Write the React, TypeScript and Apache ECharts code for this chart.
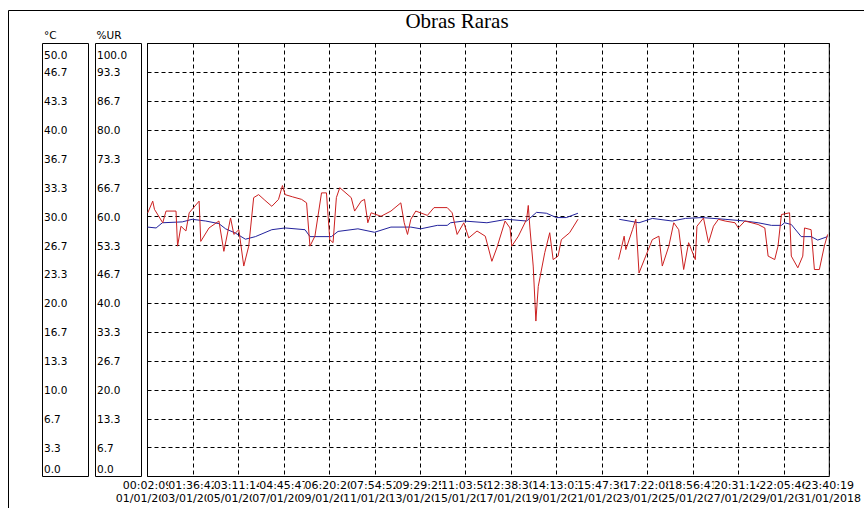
import React, { useEffect, useRef } from 'react';
import * as echarts from 'echarts';

const TITLE = 'Obras Raras';
const TEMP_UNIT = '°C';
const HUM_UNIT = '%UR';

// x tick labels (time + date), 16 ticks spanning 01/01/2018 00:02:09 .. 31/01/2018 23:40:19
const X_TIMES = ['00:02:09', '01:36:42', '03:11:14', '04:45:47', '06:20:20', '07:54:52', '09:29:25', '11:03:58',
  '12:38:30', '14:13:03', '15:47:36', '17:22:08', '18:56:41', '20:31:14', '22:05:46', '23:40:19'];
const X_DATES = ['01/01/2018', '03/01/2018', '05/01/2018', '07/01/2018', '09/01/2018', '11/01/2018', '13/01/2018',
  '15/01/2018', '17/01/2018', '19/01/2018', '21/01/2018', '23/01/2018', '25/01/2018', '27/01/2018', '29/01/2018', '31/01/2018'];
const TOTAL_HOURS = 743.636; // elapsed hours between first and last tick

const TEMP_TICKS = ['0.0', '3.3', '6.7', '10.0', '13.3', '16.7', '20.0', '23.3', '26.7', '30.0', '33.3', '36.7', '40.0', '43.3', '46.7', '50.0'];
const HUM_TICKS = ['0.0', '6.7', '13.3', '20.0', '26.7', '33.3', '40.0', '46.7', '53.3', '60.0', '66.7', '73.3', '80.0', '86.7', '93.3', '100.0'];
const TEMP_MAX = 50;
const HUM_MAX = 100;

// temperature (°C), hours since start
const TEMP_HOURS = [0, 9.4, 16.2, 37.9, 48.7, 63.5, 77.9, 85.2, 96.0, 106.8, 117.7, 135.6, 150.1, 171.8, 177.2, 200.6,
  207.8, 229.5, 247.6, 265.5, 287.2, 298.0, 316.1, 326.9, 330.5, 345.0, 370.2, 391.9, 413.5, 424.3, 435.1, 446.0,
  456.8, 469.5, 490, 514.5, 536.1, 550.6, 572.3, 586.7, 604.8, 630.0, 651.6, 666.0, 680.5, 691.4, 694.9, 702.2,
  713.0, 723.8, 731.0, 741.8];
const TEMP_VALUES = [28.8, 28.7, 29.3, 29.4, 29.7, 29.5, 29.2, 28.6, 28.1, 27.4, 27.7, 28.5, 28.7, 28.5, 27.7, 27.7,
  28.3, 28.6, 28.2, 28.8, 28.8, 28.6, 29.0, 29.0, 29.3, 29.5, 29.3, 29.7, 29.5, 30.5, 30.4, 29.9,
  29.9, 30.4, null, 29.7, 29.3, 29.8, 29.5, 29.8, 29.9, 29.7, 29.5, 29.3, 29.0, 29.0, 29.3, 29.1,
  27.7, 27.7, 27.3, 27.7];

// relative humidity (%UR), hours since start
const HUM_HOURS = [0.3, 5.7, 7.6, 16.6, 20.2, 31.1, 32.8, 36.5, 41.9, 45.5, 56.3, 58.1, 67.1, 77.9, 83.3, 90.6,
  94.2, 99.6, 105.0, 110.4, 115.8, 121.2, 128.0, 135.6, 142.9, 147.2, 150.1, 158.0, 168.1, 173.5, 177.2, 182.6,
  189.8, 195.2, 198.8, 202.4, 206.0, 209.7, 222.2, 225.9, 233.1, 236.7, 240.3, 243.9, 254.7, 265.5, 276.3, 280.0,
  283.6, 287.2, 292.6, 305.3, 312.5, 326.9, 332.3, 337.7, 345.0, 350.4, 359.4, 368.4, 375.6, 381.0, 390.0, 395.4,
  397.3, 404.5, 413.5, 415.3, 417.1, 420.7, 423.6, 426.2, 433.3, 438.7, 442.4, 447.8, 451.4, 460.4, 469.5, 490,
  513.8, 519.9, 521.7, 529.0, 532.6, 536.1, 543.4, 550.6, 557.8, 561.5, 568.6, 574.0, 579.4, 584.8, 590.2, 597.5,
  599.3, 606.4, 611.9, 617.3, 622.7, 630.0, 640.8, 644.4, 651.6, 666.0, 673.3, 676.9, 684.1, 687.7, 691.4, 700.3,
  702.2, 709.3, 714.7, 716.6, 723.8, 727.4, 732.8, 738.2, 741.8];
const HUM_VALUES = [60.9, 63.6, 61.7, 58.6, 61.3, 61.3, 53.2, 57.8, 56.7, 60.9, 63.6, 54.3, 57.4, 59.0, 52.0, 59.7,
  55.9, 57.0, 48.6, 53.2, 64.4, 65.1, 63.8, 62.4, 64.0, 67.2, 65.1, 64.6, 64.0, 63.2, 53.2, 55.5,
  65.5, 65.5, 54.7, 54.0, 64.4, 66.7, 64.4, 61.3, 63.6, 64.0, 58.6, 60.9, 60.1, 61.3, 63.2, 58.6,
  55.9, 59.4, 61.3, 60.3, 62.1, 62.1, 60.9, 55.9, 58.6, 55.1, 56.7, 55.5, 49.7, 52.8, 59.0, 57.4,
  53.2, 55.5, 59.4, 62.6, 57.4, 48.6, 35.9, 43.9, 51.7, 56.3, 50.1, 50.9, 54.7, 56.3, 59.4, null,
  50.1, 55.5, 52.4, 57.0, 59.4, 47.0, 50.9, 54.7, 55.5, 48.6, 53.2, 58.6, 57.0, 47.8, 54.0, 50.1,
  57.8, 59.7, 54.0, 57.8, 59.4, 59.0, 58.6, 57.4, 59.0, 58.2, 57.4, 50.9, 50.1, 53.2, 60.5, 60.9,
  50.9, 48.2, 50.9, 57.4, 57.0, 47.8, 47.8, 53.2, 55.9];

const FONT = 'DejaVu Sans';
const GRID_TOP = 43.5;
const GRID_H = 433;

const dashed = { show: true, interval: 0, lineStyle: { color: '#000', type: [4, 3] as any, width: 1 } };

function boxAxis(gridIndex: number, data: string[]) {
  return {
    type: 'category',
    gridIndex,
    data,
    boundaryGap: false,
    position: 'left',
    axisLine: { show: false },
    axisTick: { show: false },
    splitLine: { show: false },
    axisLabel: {
      inside: true,
      interval: 0,
      margin: 1.5,
      color: '#000',
      fontFamily: FONT,
      fontSize: 10.5,
      formatter: (v: string, i: number) =>
        i === data.length - 1 ? `{top|${v}}` : i === 0 ? `{bot|${v}}` : v,
      rich: {
        top: { fontFamily: FONT, fontSize: 10.5, color: '#000', padding: [22, 0, 0, 0] },
        bot: { fontFamily: FONT, fontSize: 10.5, color: '#000', padding: [0, 0, 16, 0] },
      },
    },
  };
}

export default function App() {
  const ref = useRef<HTMLDivElement>(null);
  useEffect(() => {
    const chart = echarts.init(ref.current!, null, { renderer: 'svg' });
    const xLabels = X_TIMES.map((t, i) => `${t}\n${X_DATES[i]}`);
    const labelToken = { fontFamily: FONT, fontSize: 11, color: '#000', lineHeight: 12.5, backgroundColor: '#fff' };
    const option: any = {
      animation: false,
      backgroundColor: '#fff',
      title: {
        text: TITLE,
        left: 457,
        top: 10,
        padding: 0,
        textAlign: 'center',
        textStyle: { fontFamily: 'Liberation Serif', fontSize: 21, fontWeight: 'normal', color: '#000' },
      },
      graphic: [
        { type: 'rect', silent: true, z: -10, shape: { x: 8.5, y: 10.5, width: 900, height: 600 },
          style: { fill: 'none', stroke: '#000', lineWidth: 1 } },
        { type: 'text', x: 44, y: 35, style: { text: TEMP_UNIT, fontFamily: FONT, fontSize: 10.5, fill: '#000', align: 'left', verticalAlign: 'middle' } },
        { type: 'text', x: 96.5, y: 35, style: { text: HUM_UNIT, fontFamily: FONT, fontSize: 10.5, fill: '#000', align: 'left', verticalAlign: 'middle' } },
      ],
      grid: [
        { left: 147.5, top: GRID_TOP, width: 687, height: GRID_H, show: true, borderColor: '#000', borderWidth: 1, containLabel: false },
        { left: 42.5, top: GRID_TOP, width: 46, height: GRID_H, show: true, borderColor: '#000', borderWidth: 1, containLabel: false },
        { left: 95.5, top: GRID_TOP, width: 46, height: GRID_H, show: true, borderColor: '#000', borderWidth: 1, containLabel: false },
      ],
      xAxis: [
        {
          type: 'category', gridIndex: 0, data: xLabels, boundaryGap: false, position: 'bottom',
          axisLine: { show: false }, axisTick: { show: false },
          axisLabel: {
            interval: 0, margin: 3, color: '#000', fontFamily: FONT, fontSize: 11, lineHeight: 12.5,
            formatter: (v: string) => {
              const [t, d] = v.split('\n');
              return `{t|${t}}\n{d|${d}}`;
            },
            rich: { t: labelToken, d: labelToken },
          },
          splitLine: dashed,
        },
        { type: 'value', gridIndex: 0, min: 0, max: TOTAL_HOURS, show: false },
        { type: 'value', gridIndex: 1, show: false },
        { type: 'value', gridIndex: 2, show: false },
      ],
      yAxis: [
        {
          type: 'category', gridIndex: 0, data: TEMP_TICKS, boundaryGap: false,
          axisLine: { show: false }, axisTick: { show: false }, axisLabel: { show: false },
          splitLine: dashed,
        },
        { type: 'value', gridIndex: 0, min: 0, max: TEMP_MAX, show: false },
        { type: 'value', gridIndex: 0, min: 0, max: HUM_MAX, show: false },
        boxAxis(1, TEMP_TICKS),
        boxAxis(2, HUM_TICKS),
      ],
      series: [
        {
          name: TEMP_UNIT, type: 'line', xAxisIndex: 1, yAxisIndex: 1, showSymbol: false, connectNulls: false,
          lineStyle: { color: '#22229c', width: 1 }, itemStyle: { color: '#22229c' },
          data: TEMP_HOURS.map((h, i) => [h, TEMP_VALUES[i]]),
        },
        {
          name: HUM_UNIT, type: 'line', xAxisIndex: 1, yAxisIndex: 2, showSymbol: false, connectNulls: false,
          lineStyle: { color: '#cc2020', width: 1 }, itemStyle: { color: '#cc2020' },
          data: HUM_HOURS.map((h, i) => [h, HUM_VALUES[i]]),
        },
      ],
    };
    chart.setOption(option);
    return () => chart.dispose();
  }, []);
  return <div ref={ref} style={{ position: 'absolute', left: 0, top: 0, width: 864, height: 508, background: '#fff' }} />;
}
